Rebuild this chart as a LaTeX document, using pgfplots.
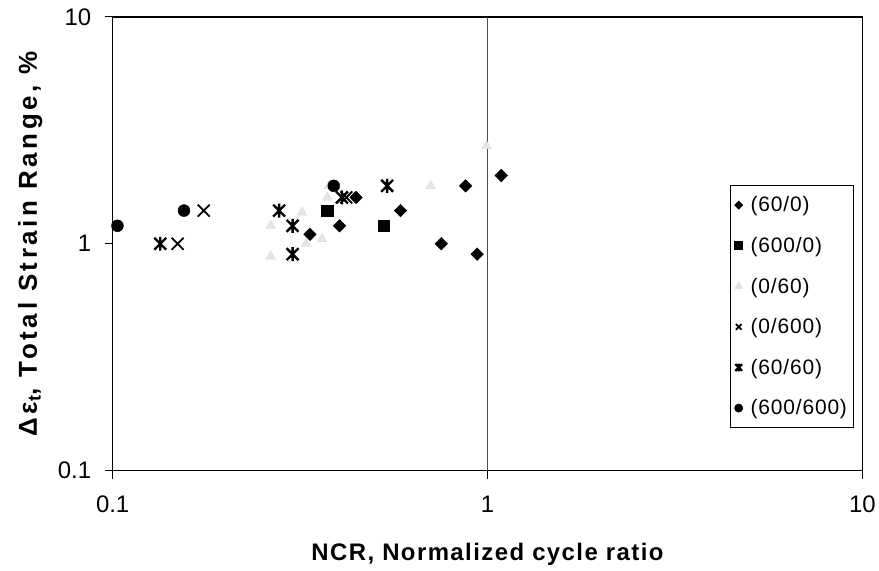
\documentclass[border=0pt]{standalone}
\usepackage{pgfplots}
\pgfplotsset{compat=1.18}
\usepackage{fontspec}
\setmainfont{Liberation Sans}

% asterisk like the reference: a vertical bar and an X
\pgfdeclareplotmark{xbar}{%
  \pgfpathmoveto{\pgfqpoint{0pt}{\pgfplotmarksize}}%
  \pgfpathlineto{\pgfqpoint{0pt}{-\pgfplotmarksize}}%
  \pgfpathmoveto{\pgfqpoint{0.85\pgfplotmarksize}{0.85\pgfplotmarksize}}%
  \pgfpathlineto{\pgfqpoint{-0.85\pgfplotmarksize}{-0.85\pgfplotmarksize}}%
  \pgfpathmoveto{\pgfqpoint{-0.85\pgfplotmarksize}{0.85\pgfplotmarksize}}%
  \pgfpathlineto{\pgfqpoint{0.85\pgfplotmarksize}{-0.85\pgfplotmarksize}}%
  \pgfusepathqstroke}
% square diamond
\pgfdeclareplotmark{sqdiamond}{%
  \pgfpathmoveto{\pgfqpoint{0pt}{\pgfplotmarksize}}%
  \pgfpathlineto{\pgfqpoint{\pgfplotmarksize}{0pt}}%
  \pgfpathlineto{\pgfqpoint{0pt}{-\pgfplotmarksize}}%
  \pgfpathlineto{\pgfqpoint{-\pgfplotmarksize}{0pt}}%
  \pgfpathclose
  \pgfusepathqfillstroke}

\begin{document}
\begin{tikzpicture}
\begin{axis}[
  scale only axis, width=752pt, height=455pt,
  xmode=log, ymode=log,
  xmin=0.1, xmax=10, ymin=0.1, ymax=10,
  xtick={0.1,1,10}, xticklabels={0.1,1,10},
  ytick={0.1,1,10}, yticklabels={0.1,1,10},
  xminorticks=false, yminorticks=false,
  tick align=outside, tick pos=left, major tick length=8pt,
  axis line style={line width=1.3pt},
  tick style={line width=1pt, black},
  ticklabel style={font=\fontsize{24}{28}\selectfont},
  xticklabel style={yshift=-14pt},
  yticklabel style={xshift=-10pt},
  xlabel={NCR, Normalized cycle ratio},
  ylabel={Δε\textsubscript{t}, Total Strain Range, \%},
  label style={font=\bfseries\fontsize{24}{28}\selectfont\addfontfeature{LetterSpace=6}},
  xlabel style={at={(axis description cs:0.5,-0.185)}, anchor=center},
  ylabel style={at={(axis description cs:-0.11,0.5)}, anchor=center,
    font=\bfseries\fontsize{26}{28}\selectfont\addfontfeature{LetterSpace=14}},
  legend style={at={(0.988,0.6286)}, anchor=north east, draw=black,
    line width=0.8pt, font=\fontsize{21}{25}\selectfont\addfontfeature{LetterSpace=4},
    row sep=20pt, column sep=6pt, inner xsep=4pt, inner ysep=9pt},
  legend cell align=left,
  legend image post style={mark size=4pt},
  clip=false,
]
\addplot[black!70, line width=0.9pt, forget plot] coordinates {(1,0.1)(1,10)};

\addplot[only marks, mark=sqdiamond, mark size=6.3pt, black] coordinates {
  (0.336,1.1)(0.403,1.2)(0.446,1.6)(0.586,1.4)(0.753,1.0)(0.874,1.8)(0.938,0.9)(1.088,2.0)};
\addlegendentry{(60/0)}
\addplot[only marks, mark=square*, mark size=5.8pt, black] coordinates {
  (0.374,1.4)(0.529,1.2)};
\addlegendentry{(600/0)}
\addplot[only marks, mark=triangle*, mark size=5.5pt, draw=black!15, fill=black!10] coordinates {
  (0.264,1.2)(0.264,0.88)(0.320,1.375)(0.328,1.0)(0.362,1.05)(0.378,1.8)(0.374,1.6)(0.705,1.8)(0.994,2.7)};
\addlegendentry{(0/60)}
\addplot[only marks, mark=x, mark size=8.5pt, black, mark options={line width=1.8pt}] coordinates {
  (0.149,1.0)(0.175,1.4)(0.42,1.6)};
\addlegendentry{(0/600)}
\addplot[only marks, mark=xbar, mark size=7pt, black, mark options={line width=2.4pt}] coordinates {
  (0.134,1.0)(0.278,1.4)(0.302,1.2)(0.302,0.9)(0.540,1.8)(0.409,1.6)};
\addlegendentry{(60/60)}
\addplot[only marks, mark=*, mark size=6pt, black] coordinates {
  (0.103,1.2)(0.155,1.4)(0.389,1.8)};
\addlegendentry{(600/600)}
\end{axis}
\path (current axis.south west) ++(-113pt,-100pt) coordinate (bbA);
\path (current axis.north east) ++(14pt,17pt) coordinate (bbB);
\end{tikzpicture}
\end{document}
